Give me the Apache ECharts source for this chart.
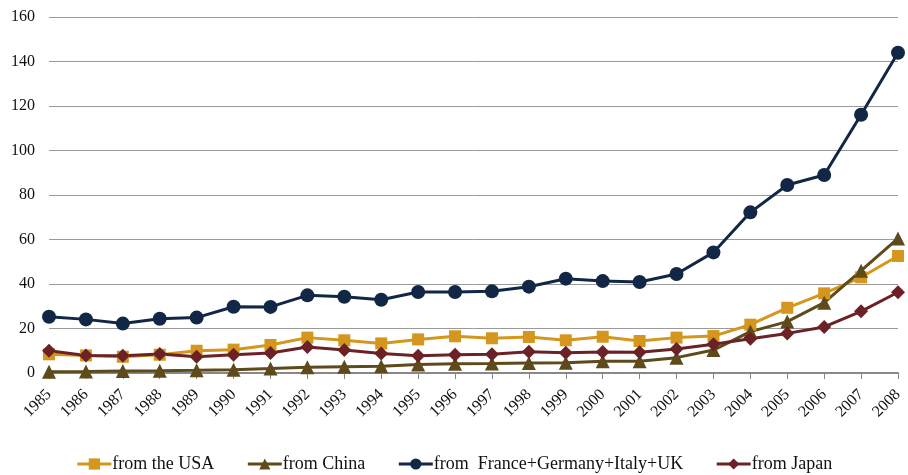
<!DOCTYPE html>
<html>
<head>
<meta charset="utf-8">
<script src="https://cdn.jsdelivr.net/npm/echarts@6/dist/echarts.min.js"></script>
<style>
  html, body { margin: 0; padding: 0; background: #fff; }
  #chart { width: 908px; height: 475px; }
</style>
</head>
<body>
<div id="chart"></div>
<script>
const years = ['1985','1986','1987','1988','1989','1990','1991','1992','1993','1994','1995','1996',
  '1997','1998','1999','2000','2001','2002','2003','2004','2005','2006','2007','2008'];

const fromUSA = [8.4, 7.9, 7.3, 8.2, 10.0, 10.5, 12.6, 15.9, 14.7, 13.3, 15.1, 16.5,
  15.6, 16.2, 14.7, 16.3, 14.4, 15.9, 16.6, 21.7, 29.3, 35.8, 43.0, 52.6];

const fromChina = [0.6, 0.7, 0.9, 1.0, 1.2, 1.5, 2.0, 2.6, 2.8, 3.0, 3.8, 4.2,
  4.3, 4.5, 4.6, 5.3, 5.3, 6.9, 10.3, 18.6, 23.1, 31.6, 46.0, 60.5];

const fromEurope4 = [25.3, 24.1, 22.2, 24.4, 24.9, 29.8, 29.7, 34.9, 34.3, 32.9, 36.4, 36.4,
  36.7, 38.8, 42.4, 41.3, 40.9, 44.5, 54.2, 72.2, 84.5, 89.0, 116.1, 143.9];

const fromJapan = [10.0, 7.9, 7.8, 8.5, 7.3, 8.2, 9.0, 11.7, 10.3, 8.8, 7.8, 8.2,
  8.4, 9.6, 9.1, 9.4, 9.3, 10.8, 12.9, 15.4, 17.8, 20.7, 27.7, 36.3];

const yTicks = { min: 0, max: 160, interval: 20 };

const FONT = '"Liberation Serif", "DejaVu Serif", serif';

function lineSeries(name, data, color, symbol, size) {
  return {
    name: name,
    type: 'line',
    data: data,
    symbol: symbol,
    symbolSize: size,
    showSymbol: true,
    lineStyle: { color: color, width: 3 },
    itemStyle: { color: color },
    emphasis: { disabled: true },
    animation: false
  };
}

const chart = echarts.init(document.getElementById('chart'), null, { renderer: 'canvas' });
chart.setOption({
  backgroundColor: '#ffffff',
  animation: false,
  textStyle: { fontFamily: FONT },
  grid: { left: 49, right: 10, top: 17, bottom: 102, containLabel: false },
  legend: {
    top: 450,
    left: 'center',
    itemWidth: 34,
    itemHeight: 14,
    itemGap: 32,
    lineStyle: { width: 3 },
    textStyle: { fontFamily: FONT, fontSize: 18, color: '#111', padding: [0, 0, 0, -4] },
    data: ['from the USA', 'from China', 'from  France+Germany+Italy+UK', 'from Japan']
  },
  xAxis: {
    type: 'category',
    data: years,
    boundaryGap: false,
    axisLine: { lineStyle: { color: '#888', width: 2 } },
    axisTick: { show: true, length: 6, lineStyle: { color: '#888', width: 1 } },
    axisLabel: {
      rotate: 45,
      interval: 0,
      margin: 19,
      fontFamily: FONT,
      fontSize: 16,
      color: '#111'
    },
    splitLine: { show: false }
  },
  yAxis: {
    type: 'value',
    min: yTicks.min,
    max: yTicks.max,
    interval: yTicks.interval,
    axisLine: { show: false },
    axisTick: { show: false },
    axisLabel: { fontFamily: FONT, fontSize: 16, color: '#111', margin: 14 },
    splitLine: { lineStyle: { color: '#9a9a9a', width: 1 } }
  },
  series: [
    lineSeries('from the USA', fromUSA, '#D4961C', 'rect', 12),
    lineSeries('from China', fromChina, '#5E4A1B', 'triangle', 14),
    lineSeries('from  France+Germany+Italy+UK', fromEurope4, '#112745', 'circle', 14),
    lineSeries('from Japan', fromJapan, '#6B2226', 'diamond', 14)
  ]
});
</script>
</body>
</html>
